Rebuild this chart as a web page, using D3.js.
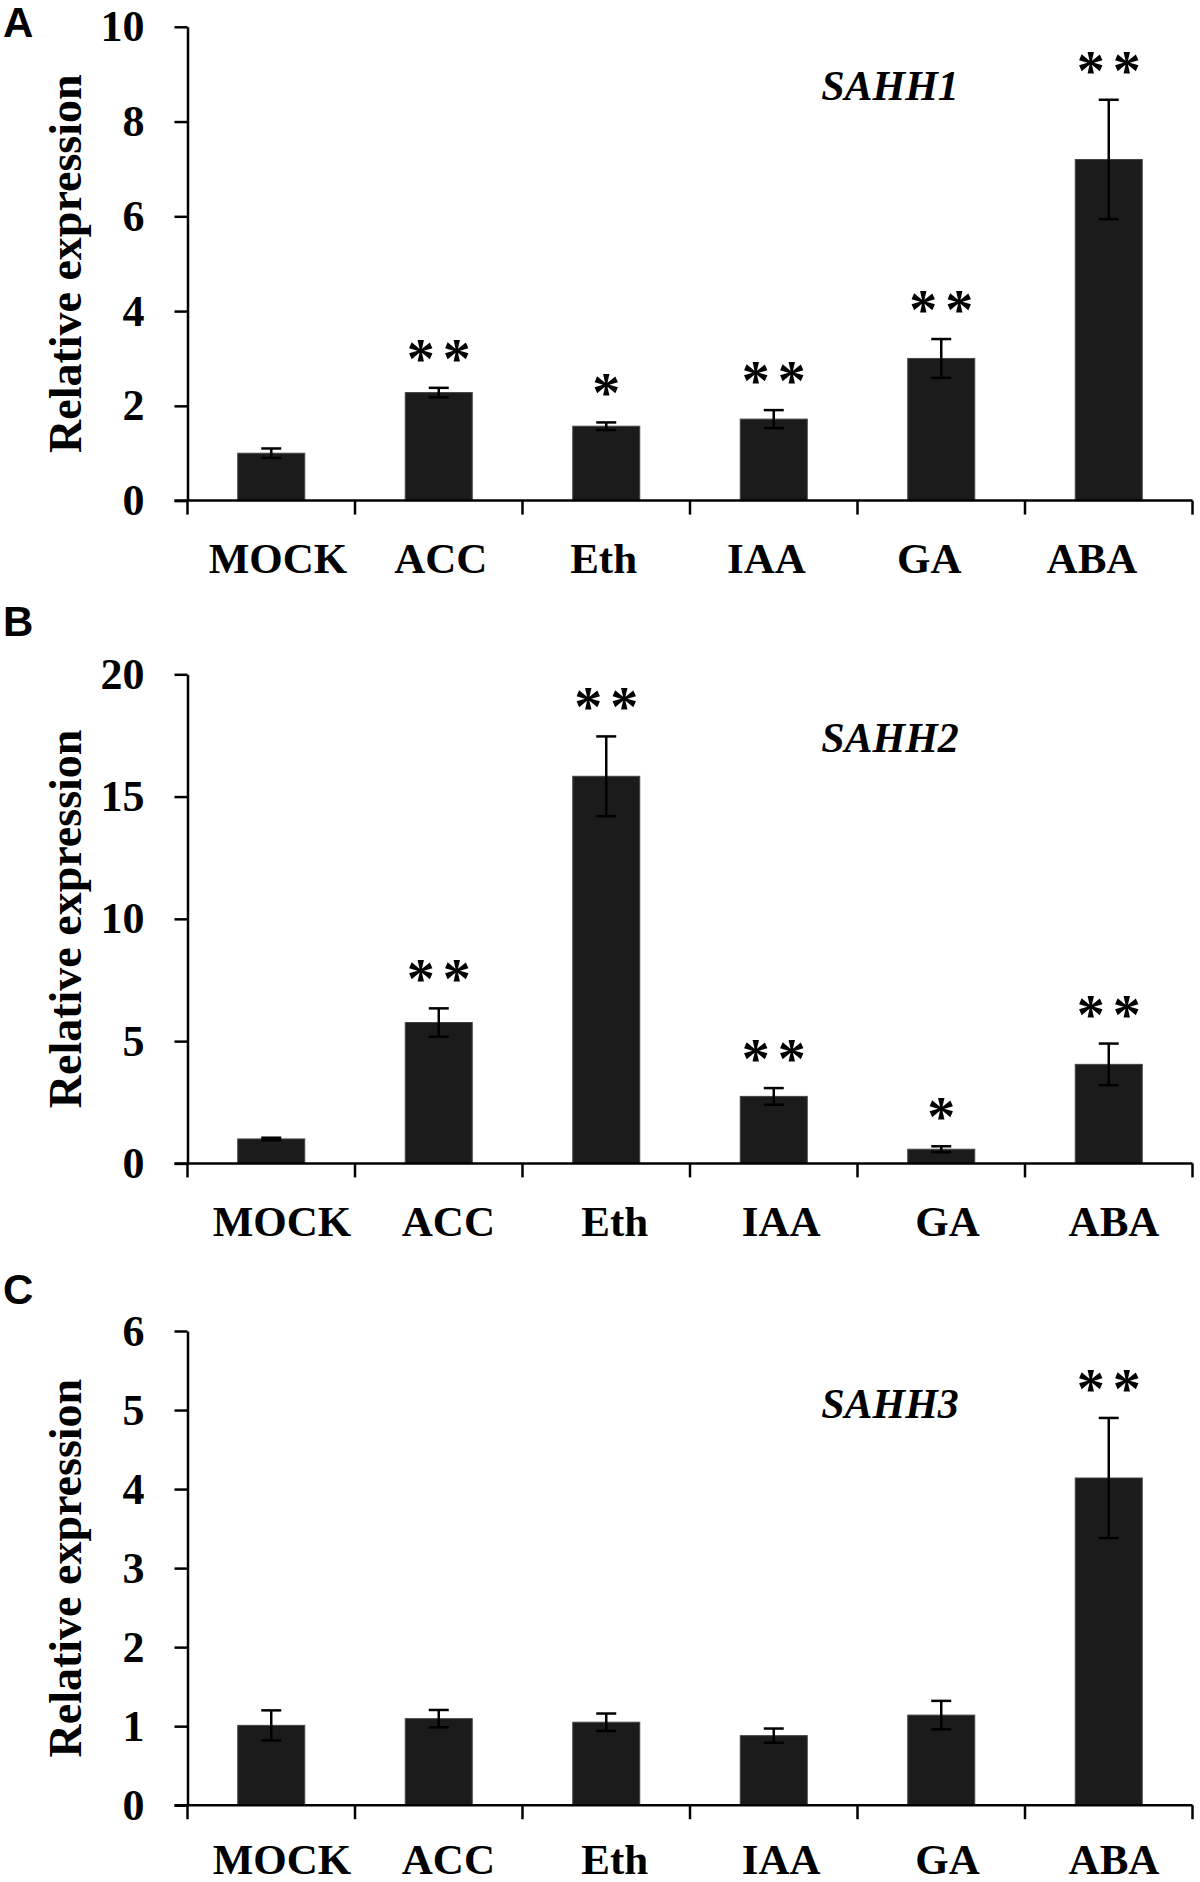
<!DOCTYPE html>
<html>
<head>
<meta charset="utf-8">
<script src="https://cdn.jsdelivr.net/npm/d3@7"></script>
<style>
  html, body { margin: 0; padding: 0; background: #fff; }
  svg { display: block; }
  .serif { font-family: "Liberation Serif", "Times New Roman", serif; }
</style>
</head>
<body>
<svg id="chart" width="1200" height="1882"></svg>
<script>
// ----------------------------
// Data
// ----------------------------
const categories = ["MOCK", "ACC", "Eth", "IAA", "GA", "ABA"];

const sahh1Mean = [1.00, 2.28, 1.57, 1.72, 3.00, 7.20];
const sahh1Err  = [0.10, 0.10, 0.08, 0.19, 0.41, 1.26];
const sahh1Sig  = ["", "**", "*", "**", "**", "**"];
const sahh1Ticks = [0, 2, 4, 6, 8, 10];

const sahh2Mean = [1.00, 5.76, 15.83, 2.74, 0.58, 4.05];
const sahh2Err  = [0.05, 0.58, 1.63, 0.34, 0.12, 0.85];
const sahh2Sig  = ["", "**", "**", "**", "*", "**"];
const sahh2Ticks = [0, 5, 10, 15, 20];

const sahh3Mean = [1.01, 1.095, 1.05, 0.88, 1.14, 4.14];
const sahh3Err  = [0.19, 0.11, 0.11, 0.09, 0.18, 0.76];
const sahh3Sig  = ["", "", "", "", "", "**"];
const sahh3Ticks = [0, 1, 2, 3, 4, 5, 6];

// ----------------------------
// Layout
// ----------------------------
const xLeft = 187.5, xRight = 1192.5;

const panels = [
  { letter: "A", gene: "SAHH1", mean: sahh1Mean, err: sahh1Err, sig: sahh1Sig, ticks: sahh1Ticks,
    top: 26.8, bottom: 500.6, letterY: 37, titleY: 100, labelY: 72, labelRange: [278, 1092] },
  { letter: "B", gene: "SAHH2", mean: sahh2Mean, err: sahh2Err, sig: sahh2Sig, ticks: sahh2Ticks,
    top: 674.3, bottom: 1163.4, letterY: 636, titleY: 752, labelY: 73, labelRange: [282, 1114] },
  { letter: "C", gene: "SAHH3", mean: sahh3Mean, err: sahh3Err, sig: sahh3Sig, ticks: sahh3Ticks,
    top: 1331, bottom: 1805.2, letterY: 1304, titleY: 1418, labelY: 69, labelRange: [282, 1114] }
];

const svg = d3.select("#chart");

function drawPanel(p) {
  const g = svg.append("g");

  const x = d3.scaleBand()
    .domain(categories)
    .range([xLeft, xRight])
    .paddingInner(0.6)
    .paddingOuter(0.3);

  const labelX = d3.scalePoint().domain(categories).range(p.labelRange);

  const y = d3.scaleLinear()
    .domain([0, d3.max(p.ticks)])
    .range([p.bottom, p.top]);

  const rows = categories.map((c, i) => ({ cat: c, mean: p.mean[i], err: p.err[i], sig: p.sig[i] }));

  // bars
  g.selectAll("rect.bar").data(rows).join("rect")
    .attr("class", "bar")
    .attr("x", d => x(d.cat))
    .attr("width", x.bandwidth())
    .attr("y", d => y(d.mean))
    .attr("height", d => y(0) - y(d.mean))
    .attr("fill", "#1b1b1b")
    .attr("stroke", "#444")
    .attr("stroke-width", 1);

  // error bars
  const cx = d => x(d.cat) + x.bandwidth() / 2;
  const eb = g.selectAll("g.err").data(rows).join("g").attr("class", "err")
    .attr("stroke", "#000").attr("stroke-width", 2.5);
  eb.append("line")
    .attr("x1", cx).attr("x2", cx)
    .attr("y1", d => y(d.mean - d.err)).attr("y2", d => y(d.mean + d.err));
  eb.append("line")
    .attr("x1", d => cx(d) - 10).attr("x2", d => cx(d) + 10)
    .attr("y1", d => y(d.mean + d.err)).attr("y2", d => y(d.mean + d.err));
  eb.append("line")
    .attr("x1", d => cx(d) - 10).attr("x2", d => cx(d) + 10)
    .attr("y1", d => y(d.mean - d.err)).attr("y2", d => y(d.mean - d.err));

  // significance stars
  g.selectAll("text.sig").data(rows.filter(d => d.sig)).join("text")
    .attr("class", "sig serif")
    .attr("x", d => cx(d) + (d.sig.length > 1 ? 4 : 0))
    .attr("y", d => y(d.mean + d.err) - 10)
    .attr("text-anchor", "middle")
    .attr("font-size", 56)
    .attr("font-weight", "bold")
    .attr("letter-spacing", d => d.sig.length > 1 ? 8 : 0)
    .text(d => d.sig);

  // y axis
  const yAxis = g.append("g")
    .attr("transform", `translate(${xLeft},0)`)
    .call(d3.axisLeft(y).tickValues(p.ticks).tickFormat(d3.format("d"))
      .tickSize(13).tickSizeOuter(0).tickPadding(30));
  yAxis.selectAll("path, line").attr("stroke", "#000").attr("stroke-width", 2.5);
  yAxis.selectAll("text")
    .attr("class", "serif")
    .attr("font-size", 44)
    .attr("font-weight", "bold")
    .attr("fill", "#000");

  // x axis line with ticks at the band boundaries
  const step = x.step();
  const edges = d3.range(categories.length + 1).map(i => xLeft + i * step);
  g.append("line")
    .attr("x1", xLeft - 13).attr("x2", xRight)
    .attr("y1", y(0)).attr("y2", y(0))
    .attr("stroke", "#000").attr("stroke-width", 2.5);
  g.selectAll("line.xt").data(edges).join("line")
    .attr("class", "xt")
    .attr("x1", d => d).attr("x2", d => d)
    .attr("y1", y(0)).attr("y2", y(0) + 14)
    .attr("stroke", "#000").attr("stroke-width", 2.5);

  g.selectAll("text.xl").data(categories).join("text")
    .attr("class", "xl serif")
    .attr("x", d => labelX(d))
    .attr("y", y(0) + p.labelY)
    .attr("text-anchor", "middle")
    .attr("font-size", 43)
    .attr("font-weight", "bold")
    .text(d => d);

  // y axis title
  g.append("text")
    .attr("class", "serif")
    .attr("transform", `translate(81,${(p.top + p.bottom) / 2}) rotate(-90)`)
    .attr("text-anchor", "middle")
    .attr("font-size", 46)
    .attr("font-weight", "bold")
    .text("Relative expression");

  // gene name
  g.append("text")
    .attr("class", "serif")
    .attr("x", 890)
    .attr("y", p.titleY)
    .attr("text-anchor", "middle")
    .attr("font-size", 42)
    .attr("font-weight", "bold")
    .attr("font-style", "italic")
    .text(p.gene);

  // panel letter
  g.append("text")
    .attr("x", 3)
    .attr("y", p.letterY)
    .attr("font-family", "'Liberation Sans', Arial, sans-serif")
    .attr("font-size", 42)
    .attr("font-weight", "bold")
    .text(p.letter);
}

panels.forEach(drawPanel);
</script>
</body>
</html>
